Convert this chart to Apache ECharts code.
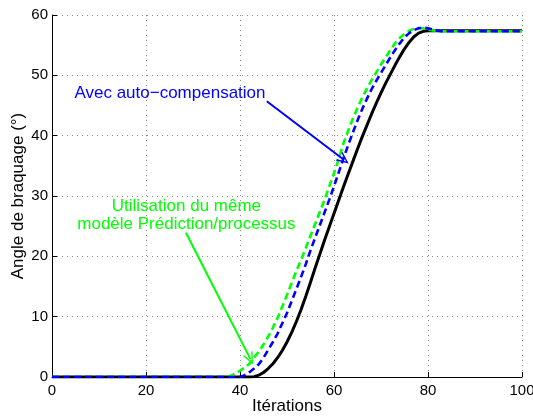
<!DOCTYPE html>
<html>
<head>
<meta charset="utf-8">
<script src="https://cdn.jsdelivr.net/npm/echarts@6/dist/echarts.min.js"></script>
<style>
  html, body { margin: 0; padding: 0; background: #fff; }
  #chart { width: 533px; height: 416px; }
</style>
</head>
<body>
<div id="chart"></div>
<script>
// Steering angle (degrees) versus iteration, three runs.
// Each array holds [iteration, angle] pairs.
const reference = [
  [0, 0], [42, 0], [43, 0.06], [44, 0.3], [45, 0.75], [46, 1.4], [47, 2.2], [48, 3.2],
  [49, 4.4], [50, 5.8], [51, 7.4], [52, 9.2], [53, 11.2], [54, 13.4], [55, 15.7],
  [56, 18.1], [57, 20.4], [58, 22.7], [59, 24.9], [60, 27.1], [61, 29.3], [62, 31.5],
  [63, 33.6], [64, 35.7], [65, 37.8], [66, 39.8], [67, 41.7], [68, 43.6], [69, 45.4],
  [70, 47.1], [71, 48.7], [72, 50.2], [73, 51.7], [74, 53.1], [75, 54.4], [76, 55.5],
  [77, 56.4], [78, 57.0], [79, 57.3], [80, 57.4], [100, 57.4]
];
const autoCompensation = [
  [0, 0], [40, 0], [41, 0.3], [42, 0.8], [43, 1.4], [44, 2.1], [45, 3.2], [46, 4.5],
  [47, 5.8], [48, 7.2], [49, 8.9], [50, 10.6], [51, 12.6], [52, 14.6], [53, 16.6],
  [54, 18.7], [55, 21.0], [56, 23.1], [57, 25.2], [58, 27.3], [59, 29.4], [60, 31.6],
  [61, 33.9], [62, 36.2], [63, 38.4], [64, 40.5], [65, 42.5], [66, 44.4], [67, 46.1],
  [68, 47.7], [69, 49.1], [70, 50.4], [71, 51.7], [72, 53.0], [73, 54.2], [74, 55.3],
  [75, 56.3], [76, 57.0], [77, 57.5], [78, 57.8], [79, 57.9], [80, 57.8], [81, 57.6],
  [82, 57.4], [83, 57.3], [100, 57.3]
];
const sameModel = [
  [0, 0], [37, 0], [38, 0.2], [39, 0.6], [40, 1.0], [41, 1.6], [42, 2.2], [43, 3.2],
  [44, 4.2], [45, 5.4], [46, 6.7], [47, 8.2], [48, 9.8], [49, 11.7], [50, 13.6],
  [51, 15.6], [52, 17.6], [53, 19.4], [54, 21.4], [55, 23.4], [56, 25.4], [57, 27.4],
  [58, 29.4], [59, 31.6], [60, 33.8], [61, 36.1], [62, 38.7], [63, 40.8], [64, 42.8],
  [65, 44.6], [66, 46.3], [67, 47.8], [68, 49.2], [69, 50.5], [70, 51.8], [71, 53.0],
  [72, 54.2], [73, 55.3], [74, 56.2], [75, 56.9], [76, 57.4], [77, 57.7], [78, 57.85],
  [79, 57.8], [80, 57.6], [81, 57.45], [82, 57.35], [83, 57.3], [100, 57.3]
];

// Annotation anchors in data coordinates
const blueArrow = [[45.7, 45.7], [62.1, 36.0]];
const blueText = [25.1, 47.0];
const greenArrow = [[28.5, 23.9], [42.2, 3.0]];
const greenText = [28.6, 26.8];

const FONT = 'Liberation Sans, Arial, Helvetica, sans-serif';
// open V arrow head
const ARROW = 'path://M0,10 L5,0 L10,10 L8.6,10 L5,2.6 L1.4,10 Z';

const chart = echarts.init(document.getElementById('chart'), null, { renderer: 'canvas' });

const gridLine = { show: true, lineStyle: { color: '#8a8a8a', width: 1, type: [1, 4] } };

chart.setOption({
  animation: false,
  backgroundColor: '#ffffff',
  grid: { left: 52, right: 11, top: 15, bottom: 39, containLabel: false, outerBoundsMode: 'none' },
  xAxis: {
    type: 'value', min: 0, max: 100, interval: 20,
    name: 'Itérations', nameLocation: 'middle', nameGap: 21, nameMoveOverlap: false,
    nameTextStyle: { fontFamily: FONT, fontSize: 17, color: '#000' },
    axisLine: { show: true, onZero: false, lineStyle: { color: '#000', width: 1 } },
    axisTick: { show: true, inside: true, length: 5, lineStyle: { color: '#000' } },
    axisLabel: { fontFamily: FONT, fontSize: 15, color: '#000', margin: 6 },
    splitLine: gridLine
  },
  yAxis: {
    type: 'value', min: 0, max: 60, interval: 10,
    name: 'Angle de braquage (°)', nameLocation: 'middle', nameGap: 25, nameMoveOverlap: false,
    nameTextStyle: { fontFamily: FONT, fontSize: 17, color: '#000' },
    axisLine: { show: true, lineStyle: { color: '#000', width: 1 } },
    axisTick: { show: true, inside: true, length: 5, lineStyle: { color: '#000' } },
    axisLabel: { fontFamily: FONT, fontSize: 15, color: '#000', margin: 4 },
    splitLine: gridLine
  },
  series: [
    {
      name: 'reference', type: 'line', data: reference, showSymbol: false,
      lineStyle: { color: '#000000', width: 3 }, z: 2
    },
    {
      name: 'sameModel', type: 'line', data: sameModel, showSymbol: false,
      lineStyle: { color: '#00ff00', width: 2.6, type: [7, 4] }, z: 3,
      markLine: {
        silent: true, symbol: ['none', ARROW], symbolSize: [11, 12],
        label: { show: false },
        lineStyle: { color: '#00ff00', width: 2, type: 'solid' },
        data: [[{ coord: greenArrow[0] }, { coord: greenArrow[1] }]]
      },
      markPoint: {
        silent: true, symbol: 'circle', symbolSize: 0,
        data: [{ coord: greenText }],
        label: {
          show: true, position: 'inside', color: '#00ff00', fontFamily: FONT,
          fontSize: 17, lineHeight: 18, align: 'center',
          formatter: 'Utilisation du même\nmodèle Prédiction/processus'
        }
      }
    },
    {
      name: 'autoCompensation', type: 'line', data: autoCompensation, showSymbol: false,
      lineStyle: { color: '#0000ff', width: 2.6, type: [7, 4] }, z: 4,
      markLine: {
        silent: true, symbol: ['none', ARROW], symbolSize: [11, 12],
        label: { show: false },
        lineStyle: { color: '#0000ff', width: 2, type: 'solid' },
        data: [[{ coord: blueArrow[0] }, { coord: blueArrow[1] }]]
      },
      markPoint: {
        silent: true, symbol: 'circle', symbolSize: 0,
        data: [{ coord: blueText }],
        label: {
          show: true, position: 'inside', color: '#0000ff', fontFamily: FONT,
          fontSize: 17, formatter: 'Avec auto\u2212compensation'
        }
      }
    }
  ]
});
</script>
</body>
</html>
